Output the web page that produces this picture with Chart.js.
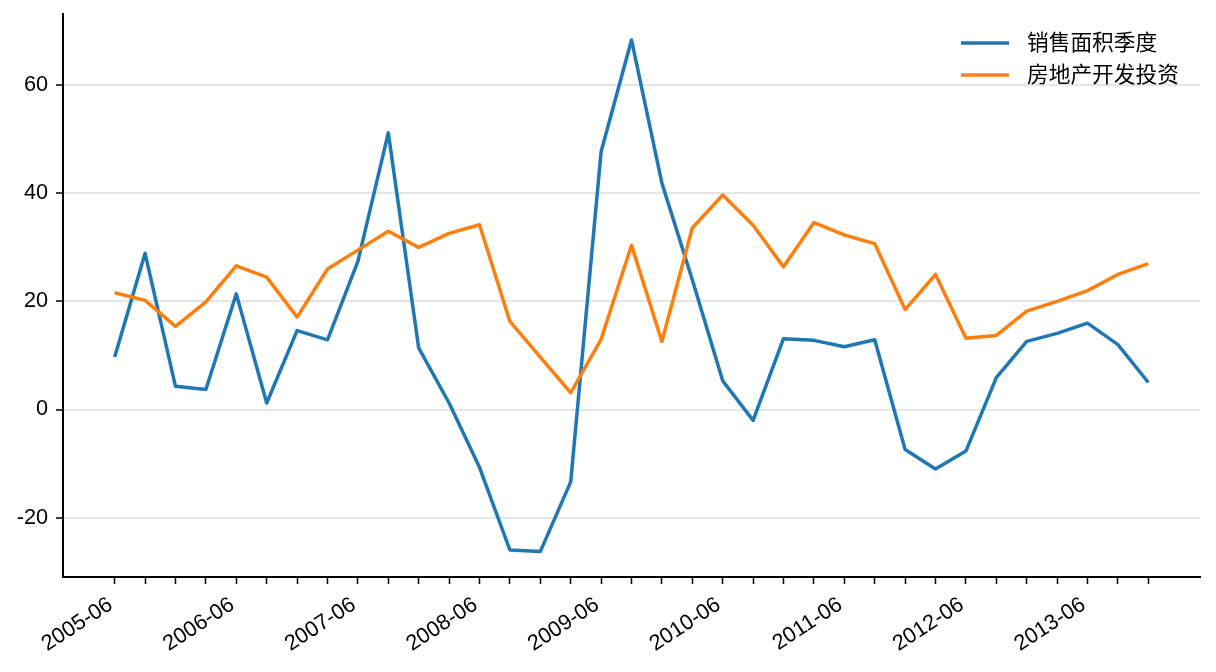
<!DOCTYPE html>
<html>
<head>
<meta charset="utf-8">
<script src="https://cdn.jsdelivr.net/npm/chart.js@4/dist/chart.umd.min.js"></script>
<style>
  html, body { margin:0; padding:0; background:#fff; }
  #wrap { width:1216px; height:672px; }
</style>
</head>
<body>
<div id="wrap"><canvas id="c" width="1216" height="672"></canvas></div>
<script>
// quarterly data, 2005-06 .. 2013-12
const quarters = [
  '2005-06','2005-09','2005-12','2006-03','2006-06','2006-09','2006-12','2007-03',
  '2007-06','2007-09','2007-12','2008-03','2008-06','2008-09','2008-12','2009-03',
  '2009-06','2009-09','2009-12','2010-03','2010-06','2010-09','2010-12','2011-03',
  '2011-06','2011-09','2011-12','2012-03','2012-06','2012-09','2012-12','2013-03',
  '2013-06','2013-09','2013-12'
];
const salesArea = [
  9.7, 28.9, 4.3, 3.7, 21.4, 1.2, 14.6, 12.9, 27.4, 51.2, 11.4, 1.2, -10.7, -26.0, -26.3, -13.4,
  47.7, 68.4, 41.9, 24.0, 5.3, -2.0, 13.1, 12.8, 11.6, 12.9, -7.4, -11.0, -7.7, 5.9, 12.6, 14.1,
  16.0, 12.0, 5.0
];
const investment = [
  21.6, 20.2, 15.4, 19.9, 26.6, 24.5, 17.1, 26.0, 29.5, 33.0, 30.0, 32.6, 34.2, 16.3, 9.7, 3.1,
  13.0, 30.4, 12.6, 33.6, 39.7, 34.1, 26.4, 34.6, 32.3, 30.7, 18.5, 25.0, 13.2, 13.7, 18.2, 20.0,
  22.0, 25.0, 27.0
];
const seriesNames = ['销售面积季度', '房地产开发投资'];
const yTicks = [-20, 0, 20, 40, 60];

const FONT = "'Liberation Sans', Arial, 'Noto Sans CJK SC', sans-serif";
const FS = 21.7;

const toPts = arr => arr.map((v, i) => ({ x: i, y: v }));

const innerLegend = {
  id: 'innerLegend',
  afterDraw(chart) {
    const ctx = chart.ctx;
    const x0 = 961, x1 = 1009, tx = 1027;
    const ys = [43, 75];
    ctx.save();
    chart.data.datasets.forEach((ds, i) => {
      ctx.strokeStyle = ds.borderColor;
      ctx.lineWidth = 3.5;
      ctx.beginPath();
      ctx.moveTo(x0, ys[i]);
      ctx.lineTo(x1, ys[i]);
      ctx.stroke();
      ctx.fillStyle = '#000';
      ctx.font = FS + 'px ' + FONT;
      ctx.textBaseline = 'middle';
      ctx.textAlign = 'left';
      ctx.fillText(ds.label, tx, ys[i] + 1);
    });
    ctx.restore();
  }
};

new Chart(document.getElementById('c').getContext('2d'), {
  type: 'line',
  data: {
    datasets: [
      { label: seriesNames[0], data: toPts(salesArea), borderColor: '#1f77b4', order: 1 },
      { label: seriesNames[1], data: toPts(investment), borderColor: '#ff7f0e', order: 0 }
    ]
  },
  options: {
    responsive: false,
    animation: false,
    layout: { padding: { top: 14, right: 16, left: 0, bottom: 0 } },
    elements: {
      line: { borderWidth: 3.5, tension: 0, borderJoinStyle: 'round', fill: false },
      point: { radius: 0 }
    },
    plugins: { legend: { display: false }, tooltip: { enabled: false } },
    scales: {
      x: {
        type: 'linear',
        min: -1.7, max: 35.7,
        afterBuildTicks: s => { s.ticks = quarters.map((q, i) => ({ value: i })); },
        afterFit: s => { s.height = 95; s.paddingLeft = 0; s.paddingRight = 0; },
        border: { display: true, color: '#000', width: 2 },
        grid: { drawOnChartArea: false, drawTicks: true, tickLength: 7, tickColor: '#000', tickWidth: 1.5 },
        ticks: {
          autoSkip: false, maxRotation: 33, minRotation: 33, padding: 8, labelOffset: -4,
          color: '#000', font: { family: FONT, size: FS },
          callback: v => (v % 4 === 0 ? quarters[v] : '')
        }
      },
      y: {
        min: -31.0, max: 73.2,
        afterBuildTicks: s => { s.ticks = yTicks.map(v => ({ value: v })); },
        afterFit: s => { s.width = 63; s.paddingTop = 0; s.paddingBottom = 0; },
        border: { display: true, color: '#000', width: 2 },
        grid: { color: '#e6e6e6', lineWidth: 2, drawTicks: true, tickLength: 7, tickColor: '#000', tickWidth: 1.5 },
        ticks: { padding: 8, color: '#000', font: { family: FONT, size: FS } }
      }
    }
  },
  plugins: [innerLegend]
});
</script>
</body>
</html>
